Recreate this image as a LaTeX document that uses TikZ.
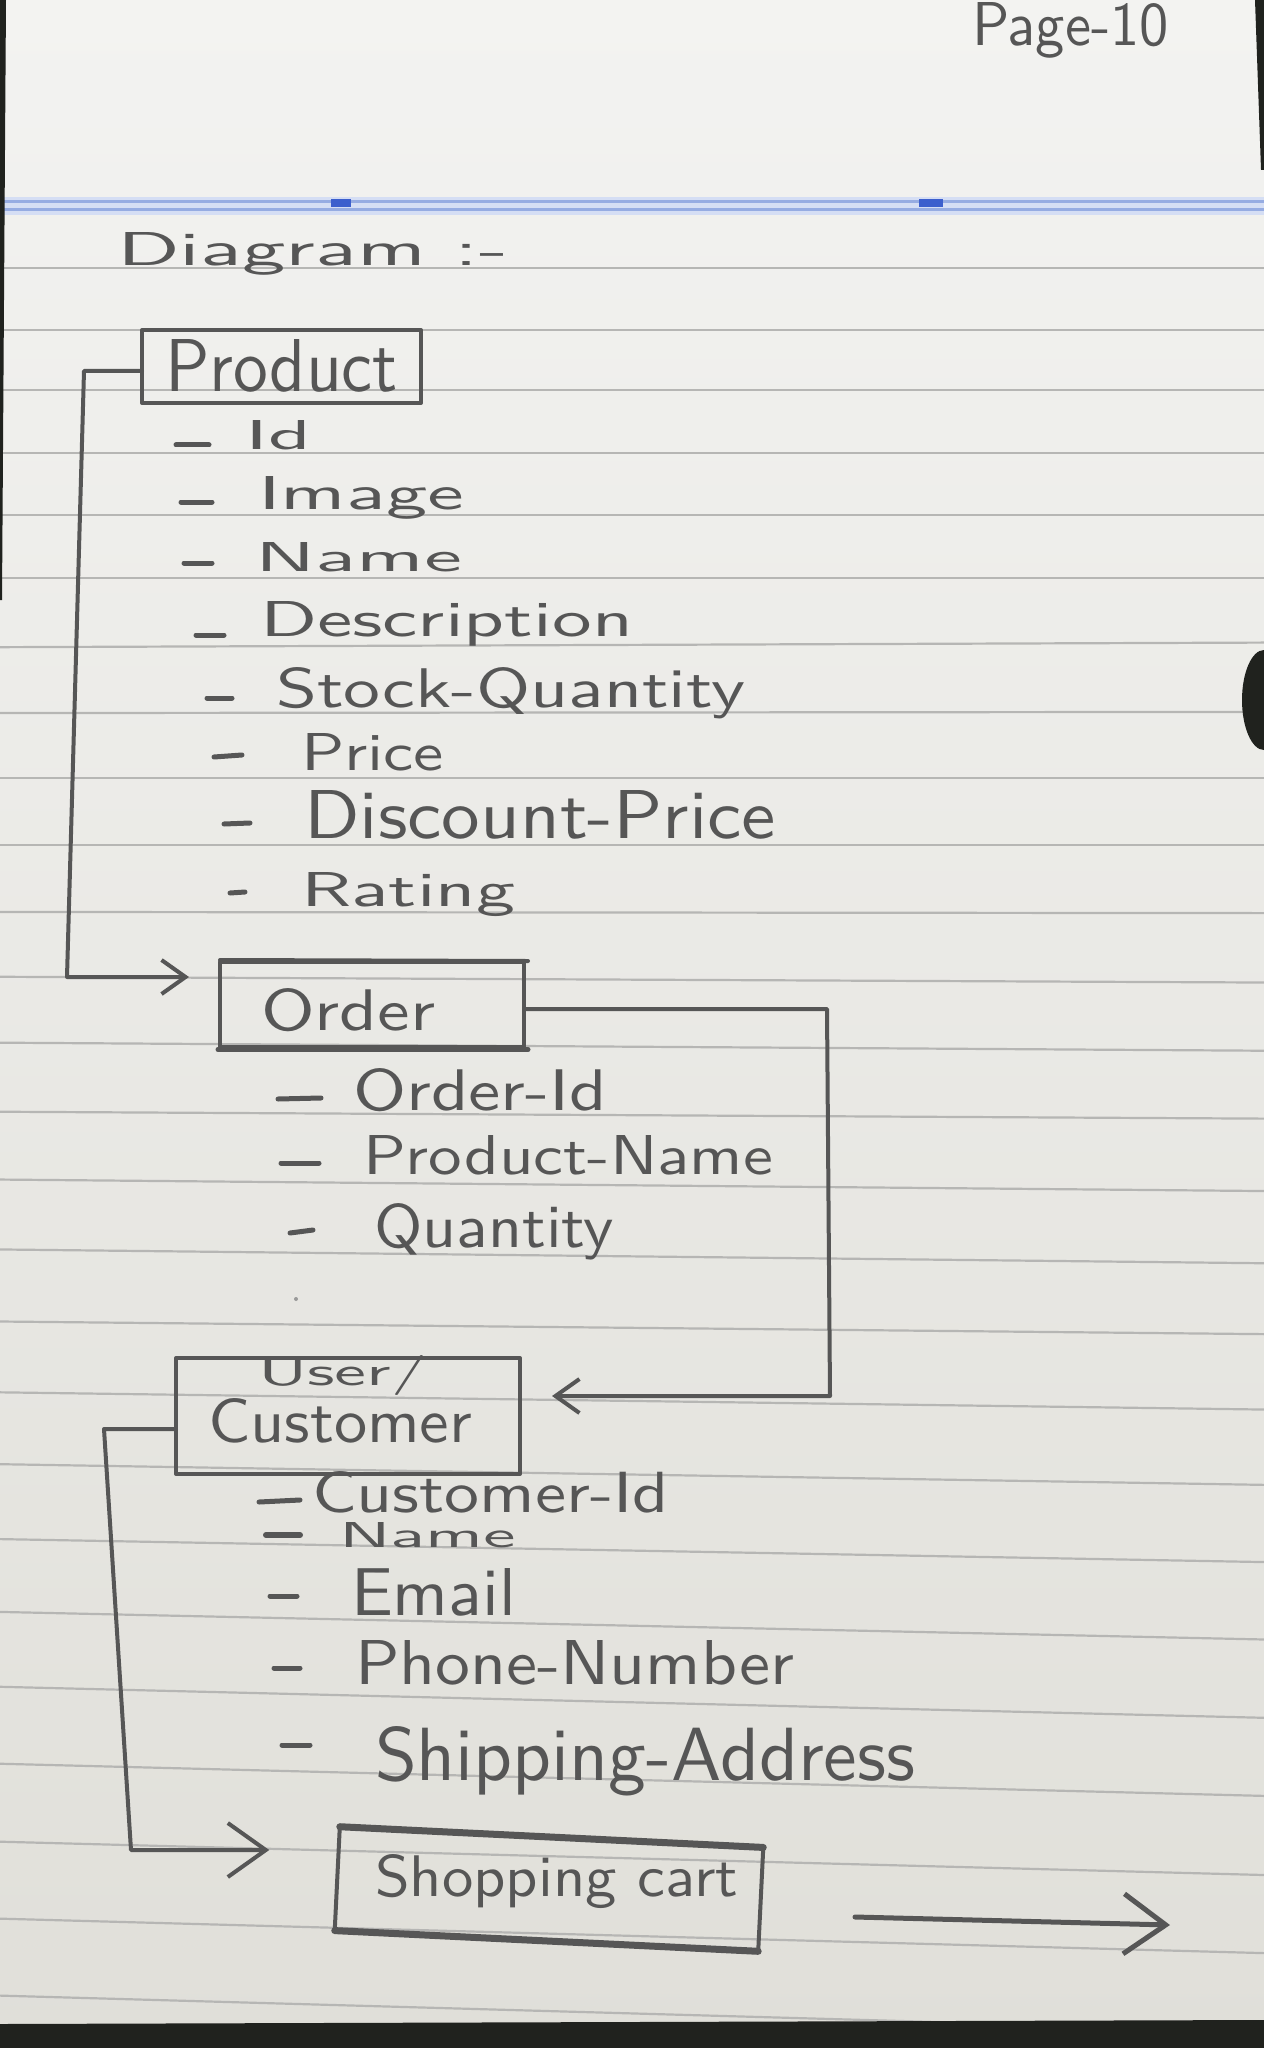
\documentclass[tikz,border=0pt]{standalone}
\usepackage{graphicx}
\usetikzlibrary{arrows.meta}
\newlength{\pxu}\setlength{\pxu}{0.1mm}
% handwritten word: stretched to a given width and height (in 0.1mm units)
\newcommand{\hw}[3]{\resizebox{#1\pxu}{#2\pxu}{\sffamily #3}}
\definecolor{pencil}{RGB}{86,86,86}
\definecolor{paperTop}{RGB}{243,243,241}
\definecolor{paperBot}{RGB}{224,223,217}
\definecolor{rulegrey}{RGB}{182,182,180}
\definecolor{margin}{RGB}{150,172,226}
\definecolor{marginDark}{RGB}{60,95,205}
\definecolor{desk}{RGB}{32,34,30}
\begin{document}
\begin{tikzpicture}[x=0.1mm, y=-0.1mm,
  pen/.style={draw=pencil, line width=4\pxu, line cap=round, line join=round},
  box/.style={pen, rectangle, inner sep=0pt, outer sep=0pt},
  bullet/.style={draw=pencil, line width=5\pxu, line cap=round},
  txt/.style={inner sep=0pt, outer sep=0pt, anchor=base west, text=pencil},
  ruled/.style={draw=rulegrey, line width=2.2\pxu},
  smallhead/.style={-{Straight Barb[length=2.4mm, width=3.4mm]}},
  bighead/.style={-{Straight Barb[length=3.8mm, width=5.4mm]}}]

\useasboundingbox (0,0) rectangle (1264,2048);

% paper
\shade[top color=paperTop, bottom color=paperBot] (0,0) rectangle (1264,2048);

% ruled lines (slightly in perspective)
\foreach \a/\b in {268/268, 330/330, 390/390, 453/453, 515/515, 578/578,
  647/643, 713/712, 778/778, 845/845, 912/913, 977/982, 1043/1050,
  1112/1118, 1180/1190, 1250/1262, 1322/1333, 1393/1408, 1465/1483,
  1540/1560, 1613/1637, 1688/1715, 1765/1793, 1843/1872, 1920/1950, 1997/2028}
  \draw[ruled] (0,{\a-(\b-\a)/22}) -- (1264,{\b+(\b-\a)*114/1100});

% blue header line
\fill[margin!40] (0,197) rectangle (1264,215);
\draw[margin, line width=3\pxu] (0,202) -- (1264,202);
\draw[margin, line width=3\pxu] (0,210) -- (1264,210);
\fill[marginDark] (331,199) rectangle (351,207);
\fill[marginDark] (919,199) rectangle (943,207);

% desk showing around the sheet
\fill[desk] (0,0) -- (6,0) -- (2,600) -- (0,600) -- cycle;
\fill[desk] (1255,0) -- (1264,0) -- (1264,170) -- (1261,170) -- cycle;
\fill[desk] (1264,700) ellipse [x radius=22, y radius=50];
\fill[desk] (0,2024) -- (1264,2020) -- (1264,2048) -- (0,2048) -- cycle;

% heading
\node[txt] (page) at (972,46) {\hw{197}{43}{Page-10}};
\node[txt] (title) at (117,266) {\hw{391}{33}{Diagram :-}};

% ---------- Product ----------
\node[box, minimum width=279\pxu, minimum height=73\pxu] (product) at (281.5,366.5) {};
\node[txt] (productlbl) at (165,392) {\hw{233}{52}{Product}};
\draw[bullet] (176,445) -- (209,445);
\node[txt] (p1) at (245,449) {\hw{66}{29}{Id}};
\draw[bullet] (181,502) -- (212,502);
\node[txt] (p2) at (258,510) {\hw{206}{33}{Image}};
\draw[bullet] (184,563) -- (212,563);
\node[txt] (p3) at (255,571) {\hw{207}{29}{Name}};
\draw[bullet] (196,635) -- (224,635);
\node[txt] (p4) at (260,636) {\hw{373}{35}{Description}};
\draw[bullet] (207,698) -- (232,698);
\node[txt] (p5) at (276,707) {\hw{469}{40}{Stock-Quantity}};
\draw[bullet] (214,757) -- (242,755);
\node[txt] (p6) at (301,770) {\hw{143}{37}{Price}};
\draw[bullet] (224,824) -- (250,823);
\node[txt] (p7) at (304,838) {\hw{472}{48}{Discount-Price}};
\draw[bullet] (230,893) -- (245,892);
\node[txt] (p8) at (301,906) {\hw{214}{34}{Rating}};

% ---------- Order ----------
\node[box, minimum width=304\pxu, minimum height=85\pxu] (order) at (372,1004.5) {};
\draw[pen, line width=5\pxu] ([xshift=-0.2mm, yshift=-0.25mm]order.south west) -- ([xshift=0.4mm, yshift=-0.25mm]order.south east);
\draw[pen] ([yshift=0.2mm]order.north west) -- ([xshift=0.4mm, yshift=0.1mm]order.north east);
\node[txt] (orderlbl) at (261,1030) {\hw{174}{42}{Order}};
\draw[bullet] (278,1099) -- (321,1098);
\node[txt] (o1) at (353,1110) {\hw{254}{42}{Order-Id}};
\draw[bullet] (281,1163) -- (319,1163);
\node[txt] (o2) at (363,1174) {\hw{410}{39}{Product-Name}};
\draw[bullet] (290,1233) -- (313,1230);
\node[txt] (o3) at (374,1247) {\hw{240}{44}{Quantity}};
\fill[pencil!60] (296,1299) circle (2);

% ---------- User / Customer ----------
\node[box, minimum width=344\pxu, minimum height=116\pxu] (user) at (348,1416) {};
\node[txt] (userlbl) at (258,1385) {\hw{169}{30}{User/}};
\node[txt] (custlbl) at (208,1442) {\hw{264}{44}{Customer}};
\draw[bullet] (259,1502) -- (300,1500);
\node[txt] (u1) at (312,1512) {\hw{357}{41}{Customer-Id}};
\draw[bullet, line width=6\pxu] (266,1535) -- (300,1535);
\node[txt] (u2) at (339,1547) {\hw{177}{25}{Name}};
\draw[bullet] (270,1596) -- (297,1596);
\node[txt] (u3) at (351,1615) {\hw{165}{47}{Email}};
\draw[bullet] (274,1668) -- (300,1668);
\node[txt] (u4) at (355,1684) {\hw{439}{44}{Phone-Number}};
\draw[bullet] (282,1745) -- (310,1745);
\node[txt] (u5) at (375,1780) {\hw{540}{54}{Shipping-Address}};

% ---------- Shopping cart ----------
\node[box, rotate=-2.8, minimum width=424\pxu, minimum height=104\pxu] (cart) at (549,1889) {};
\draw[pen, line width=7\pxu] (cart.north west) -- (cart.north east);
\draw[pen, line width=7\pxu] (cart.south west) -- (cart.south east);
\node[txt] (cartlbl) at (375,1896) {\hw{363}{42}{Shopping cart}};

% ---------- connectors ----------
\coordinate (pq1) at (84,371);
\coordinate (pq2) at (67,977);
\draw[pen, smallhead, shorten >=3.1mm] (product.west |- pq1) -- (pq1) -- (pq2) -- (order.west |- pq2);

\coordinate (oq1) at (827,1009);
\coordinate (oq2) at (830,1396);
\draw[pen, smallhead, shorten >=3.2mm] (order.east |- oq1) -- (oq1) -- (oq2) -- (user.east |- oq2);

\coordinate (uq1) at (104,1429);
\coordinate (uq2) at (131,1850);
\draw[pen, bighead, shorten >=6.8mm] (user.west |- uq1) -- (uq1) -- (uq2) -- (cart.west |- uq2);

\coordinate (fa1) at (855,1917);
\coordinate (fa2) at (1170,1925);
\draw[pen, line width=5\pxu, -{Straight Barb[length=4.2mm, width=6mm]}] (fa1) -- (fa2);

\end{tikzpicture}
\end{document}
